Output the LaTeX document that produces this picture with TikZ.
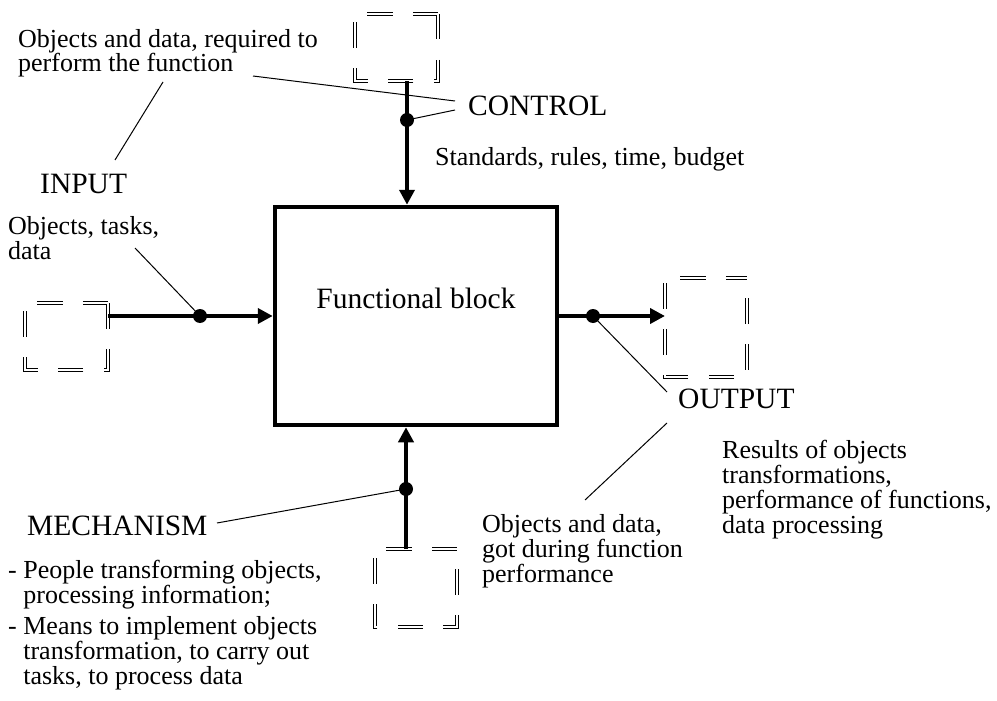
\documentclass[tikz,border=0pt]{standalone}
\usepackage{fontspec}
\setmainfont{Liberation Serif}
\usetikzlibrary{arrows.meta}
\begin{document}
\begin{tikzpicture}[
  x=1pt, y=-1pt,
  block/.style={draw, line width=4.5pt, minimum width=282pt, minimum height=218pt, text depth=36pt, font=\fontsize{29.5}{32}\selectfont},
  tray/.style={inner sep=0pt, outer sep=0pt},
  dbl/.style={double, double distance=1.8pt, line width=1.5pt, dash pattern=on 25.5pt off 20.3pt},
  flow/.style={line width=4pt, -{Triangle[length=15pt, width=15pt]}},
  dot/.style={circle, fill, inner sep=0pt, minimum size=14pt},
  lead/.style={line width=1pt},
  heading/.style={inner sep=0pt, anchor=base west, font=\fontsize{29.5}{32}\selectfont},
  note/.style={inner sep=0pt, anchor=base west, align=left, font=\fontsize{26}{24.8}\selectfont}
]
\useasboundingbox (0,0) rectangle (997,701);

\node[block] (fb) at (416,316) {Functional block};

\node[tray, minimum width=83pt, minimum height=67pt] (cbox) at (396.5,47.5) {};
\node[tray, minimum width=83pt, minimum height=67pt] (ibox) at (66.5,336.5) {};
\node[tray, minimum width=82pt, minimum height=99pt] (obox) at (706,327.5) {};
\node[tray, minimum width=82pt, minimum height=78pt] (mbox) at (416,588) {};

\foreach \b/\p in {cbox/0, ibox/0, obox/25.5, mbox/25.5}
  \draw[dbl, dash phase=\p pt] (\b.north east) -- (\b.south east) -- (\b.south west) -- (\b.north west) -- cycle;

\node[dot] (cdot) at (407,120) {};
\node[dot] (idot) at (200,316) {};
\node[dot] (odot) at (593,316) {};
\node[dot] (mdot) at (406,489) {};

\draw[flow] (cdot |- cbox.south) -- (cdot |- fb.north);
\draw[flow] (idot -| ibox.east) -- (idot -| fb.west);
\draw[flow] (odot -| fb.east) -- (odot -| obox.west);
\draw[flow] (mdot |- mbox.north) -- (mdot |- fb.south);

\node[note] (req) at (18,72) {Objects and data, required to\\perform the function};
\node[heading] (ctrl) at (468,116) {CONTROL};
\node[note] (std) at (435,165) {Standards, rules, time, budget};
\node[heading] (inp) at (40,193) {INPUT};
\node[note] (itxt) at (8,259) {Objects, tasks,\\data};
\node[heading] (outp) at (678,408) {OUTPUT};
\node[note] (otxt) at (722,533) {Results of objects\\transformations,\\performance of functions,\\data processing};
\node[note] (gtxt) at (482,582) {Objects and data,\\got during function\\performance};
\node[heading] (mech) at (27,535) {MECHANISM};
\node[note] (mtxt) at (8,684) {- People transforming objects,\\\hphantom{- }processing information;\\[6pt]- Means to implement objects\\\hphantom{- }transformation, to carry out\\\hphantom{- }tasks, to process data};

\coordinate (reqa) at (253,76);
\coordinate (reqb) at (163,82);
\coordinate (inpa) at (115,160);
\coordinate (ctrla) at (455,101);
\coordinate (ctrlb) at (455,110);
\coordinate (itxta) at (135,248);
\coordinate (outpa) at (667,392);
\coordinate (outpb) at (667,423);
\coordinate (gtxta) at (585,500);
\coordinate (mecha) at (217,523);

\draw[lead] (reqa) -- (ctrla);
\draw[lead] (reqb) -- (inpa);
\draw[lead] (ctrlb) -- (cdot.center);
\draw[lead] (itxta) -- (idot.center);
\draw[lead] (odot.center) -- (outpa);
\draw[lead] (outpb) -- (gtxta);
\draw[lead] (mecha) -- (mdot.center);
\end{tikzpicture}
\end{document}
